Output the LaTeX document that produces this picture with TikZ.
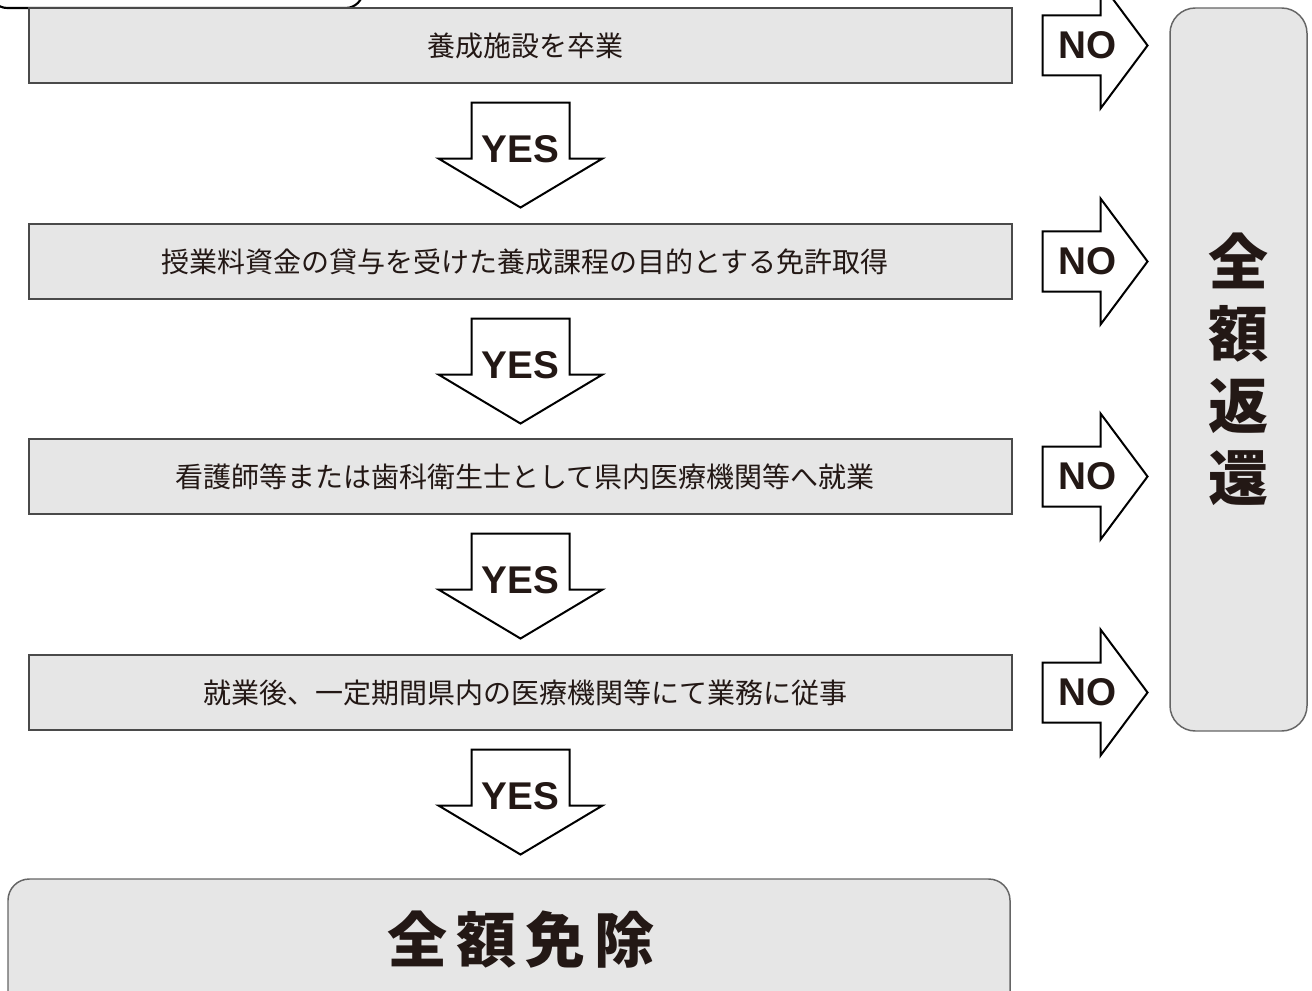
\documentclass[tikz,border=0pt]{standalone}
\usepackage{fontspec}
\setmainfont{Liberation Sans}
\newfontfamily\jp{Noto Sans CJK JP}
\definecolor{ink}{HTML}{231815}
\definecolor{boxfill}{HTML}{E6E6E6}
\definecolor{boxline}{HTML}{4A4A4A}
\tikzset{
  stepbox/.style={draw=boxline, fill=boxfill, line width=0.8pt, minimum width=737.25pt, minimum height=56.25pt, inner sep=0pt, text=ink, font=\jp\fontsize{21}{25}\selectfont},
  roundbox/.style={draw=boxline!85, fill=boxfill, line width=1.1pt, inner sep=0pt},
  blockarrow/.style={draw=black, fill=white, line width=1.5pt, line join=miter},
  yesno/.style={inner sep=0pt, text=ink, font=\fontsize{29}{30}\selectfont\bfseries},
  bigtext/.style={inner sep=0pt, text=ink, align=center, font=\jp\bfseries\fontsize{45}{54}\selectfont}
}
\newcommand\yesarrow[1]{%
  \begin{scope}[shift={(#1.south)}]
    \draw[blockarrow] (-49,19) -- (49,19) -- (49,75) -- (82,75) -- (0,124) -- (-82,75) -- (-49,75) -- cycle;
    \node[yesno] at (0,66) {YES};
  \end{scope}}
\newcommand\noarrow[1]{%
  \begin{scope}[shift={(#1.east)}]
    \draw[blockarrow] (30,-30) -- (88,-30) -- (88,-63) -- (135,0) -- (88,63) -- (88,30) -- (30,30) -- cycle;
    \node[yesno] at (75,0) {NO};
  \end{scope}}
\newcommand\sh{\hspace*{7pt}}
\begin{document}
\begin{tikzpicture}[x=0.75pt,y=-0.75pt]
\useasboundingbox (0,0) rectangle (1312,991);
\clip (0,0) rectangle (1312,991);
% partial top tab
\node[draw=black, fill=white, line width=1.6pt, rounded corners=13pt, minimum width=279.75pt, minimum height=51pt, inner sep=0pt] (tab) at (176.5,-26) {};
% step boxes
\node[stepbox] (b1) at (520.5,45.5) {\sh 養成施設を卒業};
\node[stepbox] (b2) at (520.5,261.5) {\sh 授業料資金の貸与を受けた養成課程の目的とする免許取得};
\node[stepbox] (b3) at (520.5,476.5) {\sh 看護師等または歯科衛生士として県内医療機関等へ就業};
\node[stepbox] (b4) at (520.5,692.5) {\sh 就業後、一定期間県内の医療機関等にて業務に従事};
% right result box
\node[roundbox, rounded corners=19pt, minimum width=102.75pt, minimum height=542.25pt] (ret) at (1238.5,369.5) {};
\node[bigtext] (rettext) at (ret.center) {全\\額\\返\\還};
% bottom result box
\node[roundbox, rounded corners=16pt, minimum width=751.5pt, minimum height=105pt] (free) at (509,949) {};
\node[bigtext] (freetext) at (521,940) {全\hspace{7pt}額\hspace{7pt}免\hspace{7pt}除};
% arrows
\yesarrow{b1}
\yesarrow{b2}
\yesarrow{b3}
\yesarrow{b4}
\noarrow{b1}
\noarrow{b2}
\noarrow{b3}
\noarrow{b4}
\end{tikzpicture}
\end{document}
